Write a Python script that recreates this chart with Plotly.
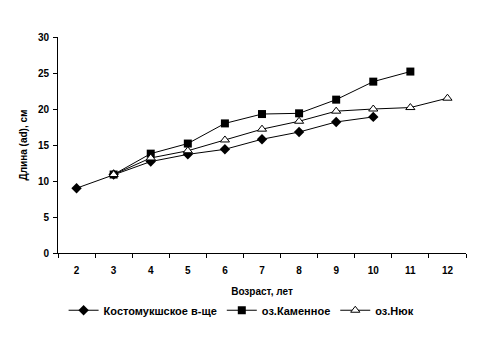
import plotly.graph_objects as go

ages = ["2", "3", "4", "5", "6", "7", "8", "9", "10", "11", "12"]

kost_x = ["2", "3", "4", "5", "6", "7", "8", "9", "10"]
kost_y = [9.0, 10.9, 12.7, 13.7, 14.4, 15.8, 16.8, 18.2, 18.9]

kam_x = ["3", "4", "5", "6", "7", "8", "9", "10", "11"]
kam_y = [10.9, 13.8, 15.2, 18.0, 19.3, 19.4, 21.3, 23.8, 25.2]

nyuk_x = ["3", "4", "5", "6", "7", "8", "9", "10", "11", "12"]
nyuk_y = [10.9, 13.2, 14.2, 15.7, 17.2, 18.3, 19.7, 20.0, 20.2, 21.5]

font = dict(family="Liberation Sans, Arial, sans-serif", size=10, color="black", weight="bold")
lfont = dict(family="Liberation Sans, Arial, sans-serif", size=11, color="black", weight="bold")

fig = go.Figure()
fig.add_trace(go.Scatter(x=kost_x, y=kost_y, mode="lines+markers", name="Костомукшское в-ще",
                         line=dict(color="black", width=1),
                         marker=dict(symbol="diamond", size=8, color="black")))
fig.add_trace(go.Scatter(x=kam_x, y=kam_y, mode="lines+markers", name="оз.Каменное",
                         line=dict(color="black", width=1),
                         marker=dict(symbol="square", size=8, color="black")))
fig.add_trace(go.Scatter(x=nyuk_x, y=nyuk_y, mode="lines+markers", name="оз.Нюк",
                         line=dict(color="black", width=1),
                         marker=dict(symbol="triangle-up", size=8, color="white",
                                     line=dict(color="black", width=1))))

fig.update_layout(
    width=482, height=337,
    paper_bgcolor="white", plot_bgcolor="white",
    margin=dict(l=50, r=24, t=29, b=92, autoexpand=False),
    font=font,
    showlegend=True,
    legend=dict(orientation="h", x=0.45, xanchor="center", y=-0.265, yanchor="middle",
                font=lfont, itemwidth=30, tracegroupgap=0),
    xaxis=dict(type="category", categoryorder="array", categoryarray=ages,
               tickvals=ages, ticktext=ages, automargin=False,
               tickson="boundaries", ticks="outside", ticklen=4, tickcolor="black",
               ticklabelstandoff=8,
               showline=True, linecolor="black", linewidth=1, showgrid=False,
               zeroline=False, tickfont=font, range=[-0.5, 10.5],
               title=dict(text="Возраст, лет", font=font, standoff=12)),
    yaxis=dict(range=[0, 30], tickvals=[0, 5, 10, 15, 20, 25, 30], automargin=False,
               ticks="outside", ticklen=4, tickcolor="black", ticklabelstandoff=2,
               showline=True, linecolor="black", linewidth=1, showgrid=False,
               zeroline=False, tickfont=font,
               title=dict(text="Длина (ad), см", font=font, standoff=8)),
)

fig.write_html("out.html")
